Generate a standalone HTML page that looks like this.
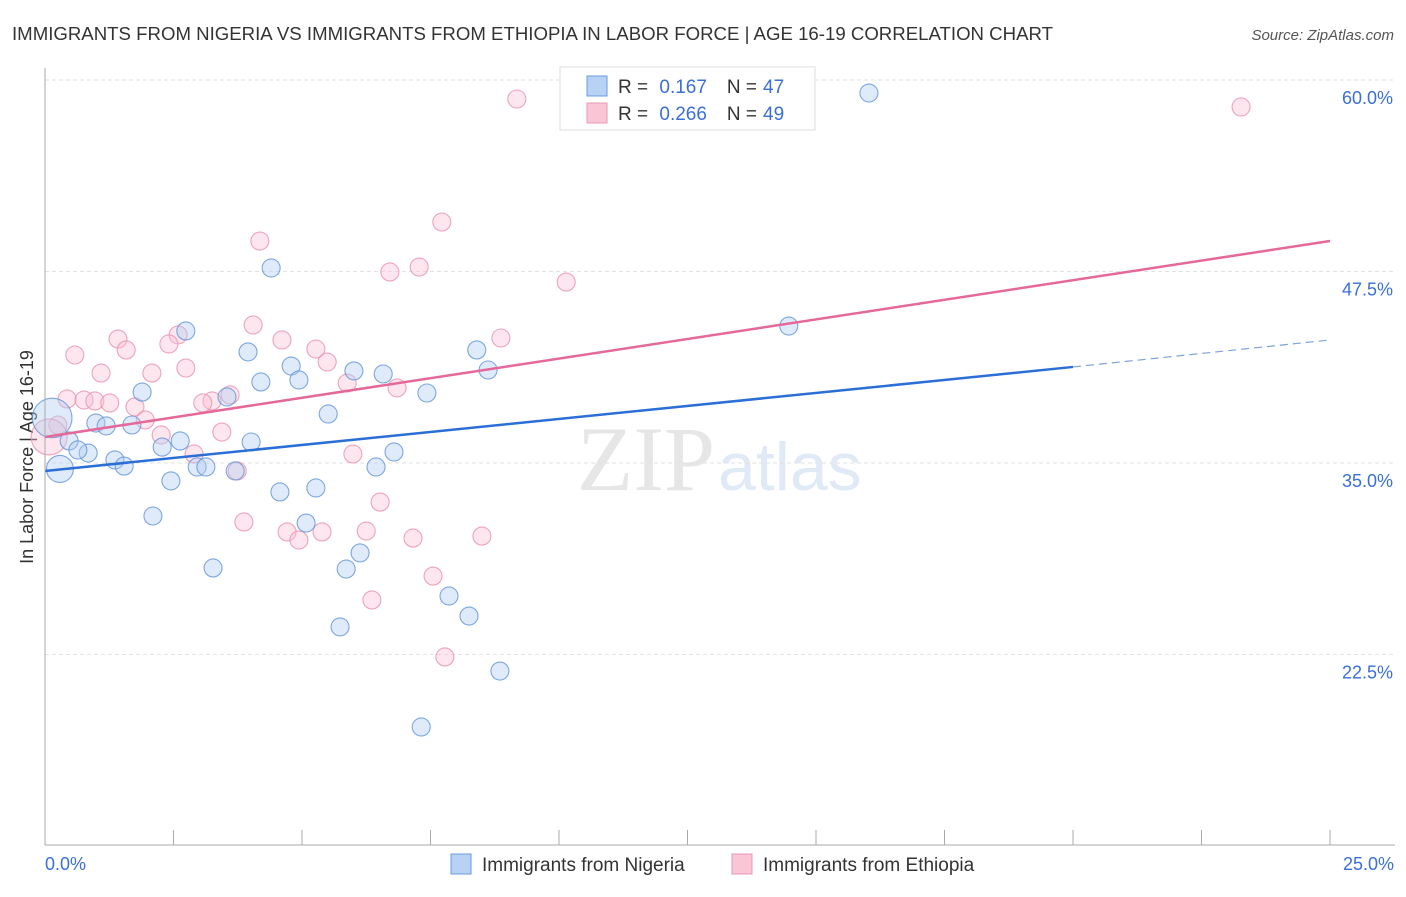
<!DOCTYPE html>
<html><head><meta charset="utf-8"><style>
body{margin:0;background:#fff;font-family:"Liberation Sans",sans-serif;}
#c{position:relative;width:1406px;height:892px;}
</style></head><body>
<div id="c">
<svg id="s" width="1406" height="892" xmlns="http://www.w3.org/2000/svg">
<text x="12" y="40" font-size="18" fill="#333" textLength="1041" lengthAdjust="spacingAndGlyphs">IMMIGRANTS FROM NIGERIA VS IMMIGRANTS FROM ETHIOPIA IN LABOR FORCE | AGE 16-19 CORRELATION CHART</text>
<text x="1394" y="40" font-size="15" fill="#555" font-style="italic" text-anchor="end">Source: ZipAtlas.com</text>
<text x="715" y="490" font-size="92" fill="#e6e6e6" text-anchor="end" font-family="Liberation Serif">ZIP</text>
<text x="718" y="490" font-size="68" fill="#e0e9f6">atlas</text>
<text transform="translate(33,457) rotate(-90)" font-size="18" fill="#333" text-anchor="middle">In Labor Force | Age 16-19</text>
<g id="grid"></g><g id="pts"></g><g id="lines"></g>
<line x1="45" y1="68" x2="45" y2="845" stroke="#aaa"/>
<line x1="45" y1="845" x2="1395" y2="845" stroke="#aaa"/>
<text x="45" y="870" font-size="18" fill="#3a6fd8">0.0%</text>
<text x="1394" y="870" font-size="18" fill="#3a6fd8" text-anchor="end">25.0%</text>
<g>
<rect x="560" y="67" width="255" height="63" fill="#fff" stroke="#ddd"/>
<rect x="587" y="76" width="20" height="20" fill="#b8d2f5" stroke="#6a9be0"/>
<rect x="587" y="103" width="20" height="20" fill="#f9c6d5" stroke="#e898b0"/>
<text x="618" y="93" font-size="19" fill="#333">R = <tspan fill="#3a6fd8" dx="6">0.167</tspan><tspan dx="20" fill="#333">N =</tspan><tspan fill="#3a6fd8" dx="6">47</tspan></text>
<text x="618" y="120" font-size="19" fill="#333">R = <tspan fill="#3a6fd8" dx="6">0.266</tspan><tspan dx="20" fill="#333">N =</tspan><tspan fill="#3a6fd8" dx="6">49</tspan></text>
</g>
<rect x="451" y="854" width="20" height="20" fill="#b8d2f5" stroke="#6a9be0"/>
<text x="482" y="871" font-size="19" fill="#333">Immigrants from Nigeria</text>
<rect x="732" y="854" width="20" height="20" fill="#f9c6d5" stroke="#e898b0"/>
<text x="763" y="871" font-size="19" fill="#333">Immigrants from Ethiopia</text>
</svg></div>
<script>
const yTicks=[60,47.5,35,22.5];
const yTickLabels=["60.0%","47.5%","35.0%","22.5%"];
const xTicks=[0,2.5,5,7.5,10,12.5,15,17.5,20,22.5,25];
const nigeriaX=[16.03,4.40,2.74,14.47,3.95,8.40,4.79,6.01,6.58,4.94,4.20,8.62,1.89,3.54,7.43,5.51,0.99,1.19,1.69,0.47,4.01,2.63,2.28,0.84,0.64,1.36,1.54,2.96,3.13,0.29,3.70,6.79,6.44,2.45,5.27,4.57,2.10,5.08,6.13,5.86,3.27,7.86,8.25,5.74,8.85,7.32,0.14];
const nigeriaY=[59.15,47.73,43.62,43.94,42.25,42.38,41.33,41.01,40.81,40.42,40.29,41.07,39.63,39.31,39.57,38.20,37.61,37.42,37.48,36.44,36.37,36.44,36.04,35.65,35.85,35.20,34.80,34.74,34.74,34.61,34.48,35.72,34.74,33.83,33.37,33.11,31.54,31.08,29.13,28.08,28.15,26.32,25.01,24.30,21.42,17.77,37.94];
const nigeriaSize=[1,1,1,1,1,1,1,1,1,1,1,1,1,1,1,1,1,1,1,1,1,1,1,1,1,1,1,1,1,1.5,1,1,1,1,1,1,1,1,1,1,1,1,1,1,1,1,2.2];
const ethiopiaX=[9.18,23.27,7.72,4.18,7.28,6.71,10.14,4.05,1.42,2.59,2.41,1.58,4.61,5.27,8.87,0.58,5.49,2.74,1.09,2.08,5.88,6.85,3.60,3.25,3.07,0.43,0.76,0.97,1.26,1.75,1.95,0.25,0.08,2.26,3.44,2.90,5.99,3.74,6.52,3.87,6.25,4.71,5.39,4.94,7.16,8.50,7.55,6.36,7.78];
const ethiopiaY=[58.76,58.24,50.73,49.49,47.79,47.47,46.81,44.01,43.09,43.36,42.77,42.38,43.03,42.44,43.16,42.05,41.59,41.20,40.87,40.87,40.22,39.90,39.44,39.05,38.92,39.18,39.11,39.05,38.92,38.66,37.81,37.48,36.70,36.83,37.02,35.59,35.59,34.48,32.45,31.15,30.56,30.50,30.50,29.97,30.10,30.23,27.62,26.06,22.34];
const ethiopiaSize=[1,1,1,1,1,1,1,1,1,1,1,1,1,1,1,1,1,1,1,1,1,1,1,1,1,1,1,1,1,1,1,1,2.0,1,1,1,1,1,1,1,1,1,1,1,1,1,1,1,1];
const nigeriaTrend=[[0,34.48],[20,41.27],[25,43.03]];
const ethiopiaTrend=[[0,36.70],[25,49.49]];
const NS="http://www.w3.org/2000/svg";
const xs=v=>45+v*51.4, ys=v=>80+(60-v)*15.32;
function mk(t,a,p){const e=document.createElementNS(NS,t);for(const k in a)e.setAttribute(k,a[k]);p.appendChild(e);return e;}
const g=document.getElementById('grid');
yTicks.forEach((v,i)=>{
 const l=mk('line',{x1:45,x2:1395,y1:ys(v),y2:ys(v),stroke:'#e2e2e2','stroke-dasharray':'4,3'},g);
 
 
 const t=mk('text',{x:1393,y:ys(v)+24,'font-size':18,fill:'#3a6fd8','text-anchor':'end'},g);
 t.textContent=yTickLabels[i];
 
 
});
xTicks.forEach(v=>{
 const l=mk('line',{x1:xs(v),x2:xs(v),y1:830,y2:845,stroke:'#aaa'},g);
 
 
});
const p=document.getElementById('pts');
function pts(X,Y,S,fill,stroke,name){
 X.forEach((x,i)=>{
  const c=mk('circle',{cx:xs(x),cy:ys(Y[i]),r:9*S[i],fill:fill,stroke:stroke,'fill-opacity':0.4,'stroke-opacity':0.8,'stroke-width':1.1},p);
  
  
 });
}
pts(ethiopiaX,ethiopiaY,ethiopiaSize,'#f9c0d2','#e890ad','ethiopia-point');
pts(nigeriaX,nigeriaY,nigeriaSize,'#b0ccf2','#5f92dc','nigeria-point');
const L=document.getElementById('lines');
let a=mk('line',{x1:xs(nigeriaTrend[0][0]),y1:ys(nigeriaTrend[0][1]),x2:xs(nigeriaTrend[1][0]),y2:ys(nigeriaTrend[1][1]),stroke:'#2b6fd6','stroke-width':2.5},L);


a=mk('line',{x1:xs(nigeriaTrend[1][0]),y1:ys(nigeriaTrend[1][1]),x2:xs(nigeriaTrend[2][0]),y2:ys(nigeriaTrend[2][1]),stroke:'#7fa3d8','stroke-width':1.2,'stroke-dasharray':'8,5'},L);


a=mk('line',{x1:xs(ethiopiaTrend[0][0]),y1:ys(ethiopiaTrend[0][1]),x2:xs(ethiopiaTrend[1][0]),y2:ys(ethiopiaTrend[1][1]),stroke:'#e5689a','stroke-width':2.5},L);


</script>
</body></html>
